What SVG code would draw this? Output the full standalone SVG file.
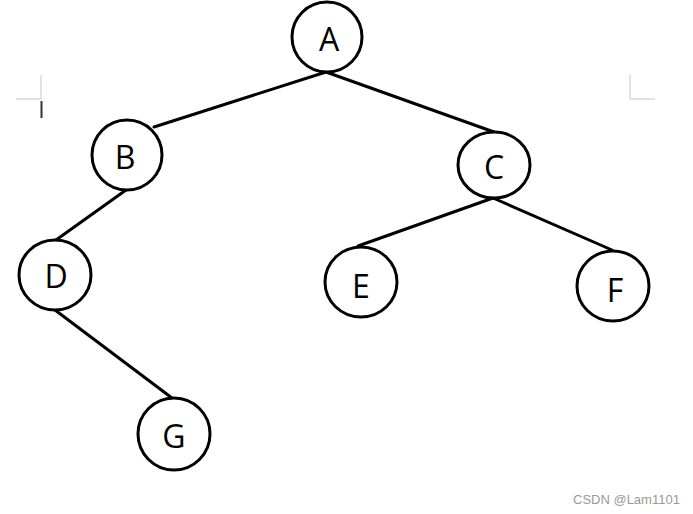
<svg xmlns="http://www.w3.org/2000/svg" width="693" height="514" viewBox="0 0 693 514">
<style>
.n{fill:#fff;stroke:#000;stroke-width:3}
.e{stroke:#000;stroke-width:3;fill:none;stroke-linecap:round}
.t{font-family:"Open Sans","Liberation Sans",sans-serif;font-size:32px;fill:#000;text-anchor:middle;dominant-baseline:central}
.m{stroke:#d9d9d9;stroke-width:1.5;fill:none}
.w{font-family:"Liberation Sans",Arial,sans-serif;font-size:13px;fill:#999}
</style>
<rect width="693" height="514" fill="#fff"/>
<g id="marks">
<path class="m" d="M41 75V99H16"/>
<path class="m" d="M630 75V99H655"/>
<line x1="41.5" y1="101" x2="41.5" y2="118" stroke="#333" stroke-width="2"/>
</g>
<g id="connectors">
<line class="e" x1="326" y1="72" x2="154" y2="127"/>
<line class="e" x1="326" y1="72" x2="494" y2="132"/>
<line class="e" x1="126" y1="190" x2="56" y2="240"/>
<line class="e" x1="55" y1="310" x2="172" y2="398"/>
<line class="e" x1="493" y1="198" x2="358" y2="246"/>
<line class="e" x1="493" y1="198" x2="612" y2="250"/>
</g>
<g id="A"><ellipse class="n" cx="327" cy="37" rx="35" ry="35"/><text class="t" x="329" y="38">A</text></g>
<g id="B"><ellipse class="n" cx="127" cy="155" rx="35" ry="35"/><text class="t" x="125" y="156">B</text></g>
<g id="C"><ellipse class="n" cx="494" cy="165" rx="36" ry="33"/><text class="t" x="494" y="166">C</text></g>
<g id="D"><ellipse class="n" cx="55" cy="275" rx="36" ry="35"/><text class="t" x="56" y="275">D</text></g>
<g id="E"><ellipse class="n" cx="361" cy="282" rx="36" ry="35"/><text class="t" x="361" y="285">E</text></g>
<g id="F"><ellipse class="n" cx="613" cy="286" rx="36" ry="35"/><text class="t" x="615" y="289">F</text></g>
<g id="G"><ellipse class="n" cx="174" cy="434" rx="36" ry="36"/><text class="t" x="174" y="435">G</text></g>
<text class="w" x="573" y="504">CSDN @Lam1101</text>
</svg>
